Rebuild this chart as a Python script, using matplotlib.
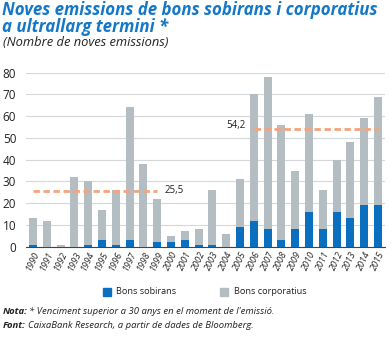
import matplotlib
matplotlib.use("Agg")
import matplotlib.pyplot as plt
import numpy as np
from matplotlib.patches import Rectangle

years = [str(y) for y in range(1990, 2016)]
sobirans = [1, 0, 0, 0, 1, 3, 1, 3, 0, 2, 2, 3, 1, 1, 0, 9, 12, 8, 3, 8, 16, 8, 16, 13, 19, 19]
totals = [13, 12, 1, 32, 30, 17, 26, 64, 38, 22, 5, 7, 8, 26, 6, 31, 70, 78, 56, 35, 61, 26, 40, 48, 59, 69]
corporatius = [t - s for t, s in zip(totals, sobirans)]
avg1 = 25.5
avg2 = 54.2
avg1_label = "25,5"
avg2_label = "54,2"

BLUE = "#0a6fbf"
GREY = "#b4bec2"
ORANGE = "#f4a47c"
TITLE_BLUE = "#1477c7"

plt.rcParams['font.family'] = ['Open Sans', 'DejaVu Sans']

fig = plt.figure(figsize=(3.91, 3.38), dpi=100)
ax = fig.add_axes([26/391, 91.3/338, 359/391, 174/338])

x = np.arange(len(years))
w = 0.58
ax.bar(x, sobirans, width=w, color=BLUE, zorder=3)
ax.bar(x, corporatius, width=w, bottom=sobirans, color=GREY, zorder=3)

i1a, i1b = years.index("1990"), years.index("1999")
i2a, i2b = years.index("2006"), years.index("2015")
ax.plot([x[i1a], x[i1b]], [avg1, avg1], color=ORANGE, lw=2, dashes=(2.3, 1.3), zorder=4)
ax.plot([x[i2a], x[i2b]], [avg2, avg2], color=ORANGE, lw=2, dashes=(2.3, 1.3), zorder=4)
ax.text(x[i1b] + 0.55, avg1 + 0.5, avg1_label, fontsize=7, va='center', ha='left', color='#222222')
ax.text(x[i2a] - 0.6, avg2 + 1.5, avg2_label, fontsize=7, va='center', ha='right', color='#222222')

ax.set_xlim(-0.5, len(years) - 0.5)
ax.set_ylim(0, 80)
ax.set_yticks(range(0, 81, 10))
ax.yaxis.grid(True, color='#d4d8da', lw=0.8, zorder=0)
ax.set_axisbelow(True)
for s in ['top', 'right', 'left']:
    ax.spines[s].set_visible(False)
ax.spines['bottom'].set_color('#444444')
ax.spines['bottom'].set_linewidth(0.8)
ax.tick_params(axis='y', length=0, labelsize=8.5, pad=7, colors='#222222')
ax.tick_params(axis='x', length=0, labelsize=6.5, pad=2, colors='#222222')
ax.set_xticks(x)
ax.set_xticklabels(years, rotation=65, ha='right', rotation_mode='anchor', style='italic')

# Title
fig.text(2/391, 1 - 1/338, "Noves emissions de bons sobirans i corporatius\na ultrallarg termini *",
         fontsize=12.2, fontweight='bold', style='italic', color=TITLE_BLUE, va='top', ha='left',
         linespacing=0.95)
fig.text(3/391, 1 - 36/338, "(Nombre de noves emissions)", fontsize=9.3, style='italic',
         color='#222222', va='top', ha='left')

# Legend
fig.patches.append(Rectangle((103/391, 1 - 296/338), 8/391, 8/338, transform=fig.transFigure,
                             color=BLUE, figure=fig))
fig.text(116/391, 1 - 292/338, "Bons sobirans", fontsize=6.6, va='center', ha='left', color='#222222')
fig.patches.append(Rectangle((220/391, 1 - 296/338), 8/391, 8/338, transform=fig.transFigure,
                             color=GREY, figure=fig))
fig.text(234/391, 1 - 292/338, "Bons corporatius", fontsize=6.6, va='center', ha='left', color='#222222')

# Notes
fig.text(3/391, 1 - 311/338, "Nota:", fontsize=6.8, fontweight='bold', style='italic', va='center', ha='left', color='#222222')
fig.text(29/391, 1 - 311/338, "* Venciment superior a 30 anys en el moment de l'emissió.", fontsize=6.8,
         style='italic', va='center', ha='left', color='#222222')
fig.text(3/391, 1 - 325/338, "Font:", fontsize=6.8, fontweight='bold', style='italic', va='center', ha='left', color='#222222')
fig.text(28/391, 1 - 325/338, "CaixaBank Research, a partir de dades de Bloomberg.", fontsize=6.8,
         style='italic', va='center', ha='left', color='#222222')

fig.savefig("out.png", dpi=100)
